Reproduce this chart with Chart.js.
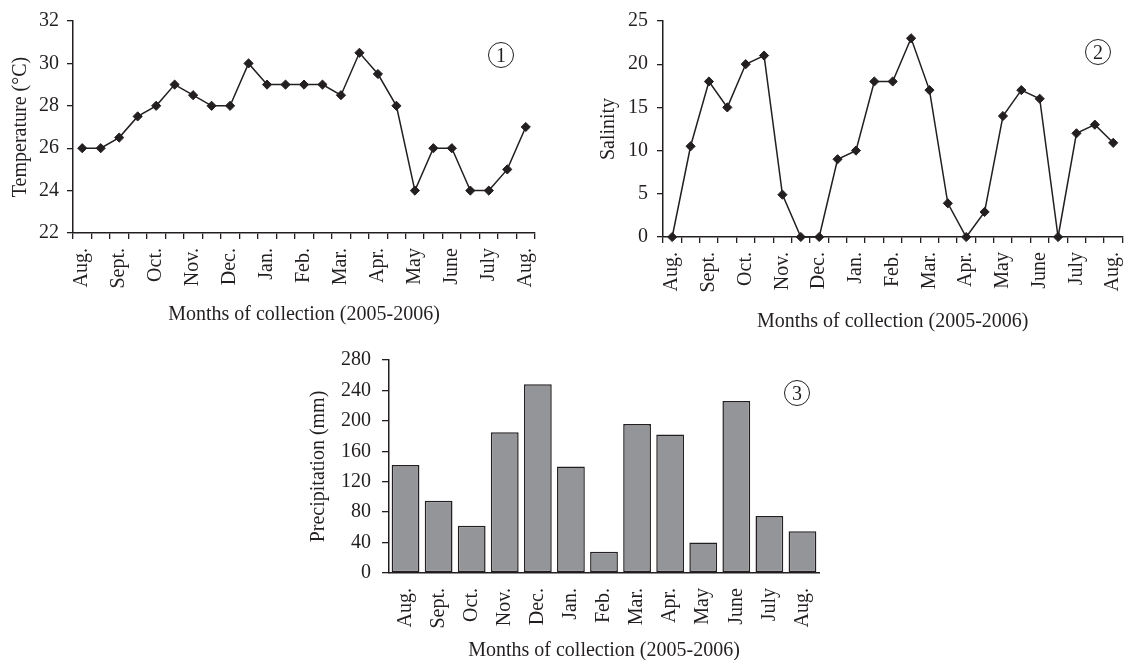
<!DOCTYPE html>
<html>
<head>
<meta charset="utf-8">
<title>Temperature, salinity and precipitation</title>
<script src="https://cdn.jsdelivr.net/npm/chart.js@4.4.1/dist/chart.umd.min.js"></script>
<style>
    html, body { margin: 0; padding: 0; background: #fff; overflow: hidden; width: 1128px; height: 660px; }
    canvas { position: absolute; }
    .tag {
        position: absolute; width: 26px; height: 26px; box-sizing: border-box;
        border: 1.3px solid #231f20; border-radius: 50%;
        font: 20px 'Liberation Serif', 'Times New Roman', serif; color: #231f20;
        text-align: center; line-height: 24px;
    }
</style>
</head>
<body>
<canvas id="tempChart" width="560" height="330" style="left:0;top:0"></canvas>
<canvas id="salinityChart" width="568" height="340" style="left:560px;top:0"></canvas>
<canvas id="rainChart" width="540" height="330" style="left:300px;top:340px"></canvas>
<div class="tag" style="left:488px;top:42px">1</div>
<div class="tag" style="left:1085px;top:39px">2</div>
<div class="tag" style="left:784px;top:380px">3</div>

<script>
// meses de colecta (ago 2005 - ago 2006)
const months = ['Aug.', 'Sept.', 'Oct.', 'Nov.', 'Dec.', 'Jan.', 'Feb.', 'Mar.', 'Apr.', 'May', 'June', 'July', 'Aug.'];

// dos muestras por mes -> etiqueta solo en la primera
const sampleLabels = [];
months.forEach((m, i) => {
    sampleLabels.push(m);
    if (i < months.length - 1) sampleLabels.push('');
});

const temperature = [26, 26, 26.5, 27.5, 28, 29, 28.5, 28, 28, 30, 29, 29, 29, 29, 28.5, 30.5, 29.5, 28, 24, 26, 26, 24, 24, 25, 27];
const salinity = [0, 10.5, 18, 15, 20, 21, 4.9, 0, 0, 9, 10, 18, 18, 23, 17, 3.9, 0, 2.9, 14, 17, 16, 0, 12, 13, 10.9];
const precipitation = [142, 95, 62, 185, 248, 140, 28, 196, 182, 40, 226, 75, 55];

const INK = '#231f20';
const xTitle = 'Months of collection (2005-2006)';

Chart.defaults.font.family = "'Liberation Serif', 'Times New Roman', serif";
Chart.defaults.font.size = 20;
Chart.defaults.color = INK;

// fija el tamaño de cada eje para ubicar el área del gráfico
function fixSize(key, value) {
    return function (scale) {
        scale[key] = value;
        scale.paddingLeft = 0;
        scale.paddingRight = 0;
        scale.paddingTop = 0;
        scale.paddingBottom = 0;
    };
}

function renderLineChart(id, values, yOpts, box) {
    const ctx = document.getElementById(id);
    return new Chart(ctx, {
        type: 'line',
        data: {
            labels: sampleLabels,
            datasets: [{
                data: values,
                borderColor: INK,
                borderWidth: 1.5,
                tension: 0,
                pointStyle: 'rectRot',
                pointRadius: 4.6,
                pointBackgroundColor: INK,
                pointBorderColor: INK,
                pointBorderWidth: 1,
                clip: false
            }]
        },
        options: {
            responsive: false,
            animation: false,
            layout: { padding: box.padding },
            plugins: { legend: { display: false }, tooltip: { enabled: false } },
            scales: {
                x: {
                    type: 'category',
                    offset: true,
                    grid: { offset: true, drawOnChartArea: false, drawTicks: true, tickLength: 6, color: INK, lineWidth: 1.3 },
                    border: { display: true, color: INK, width: 1.5 },
                    ticks: { autoSkip: false, minRotation: 90, maxRotation: 90, padding: 9 },
                    title: { display: true, text: xTitle, padding: { top: 0, bottom: box.xTitlePad } },
                    afterFit: fixSize('height', box.xHeight)
                },
                y: {
                    min: yOpts.min,
                    max: yOpts.max,
                    grid: { drawOnChartArea: false, tickLength: 6, color: INK, lineWidth: 1.3 },
                    border: { display: true, color: INK, width: 1.5 },
                    ticks: { stepSize: yOpts.step, padding: box.yTickPad },
                    title: { display: true, text: yOpts.title, padding: { top: box.yTitlePad, bottom: 0 } },
                    afterFit: fixSize('width', box.yWidth)
                }
            }
        }
    });
}

renderLineChart('tempChart', temperature,
    { min: 22, max: 32, step: 2, title: 'Temperature (°C)' },
    { padding: { left: 0, top: 21, right: 25, bottom: 0 }, xHeight: 97, yWidth: 73, xTitlePad: 3, yTitlePad: 9, yTickPad: 8 });

renderLineChart('salinityChart', salinity,
    { min: 0, max: 25, step: 5, title: 'Salinity' },
    { padding: { left: 0, top: 21, right: 3, bottom: 0 }, xHeight: 103, yWidth: 103, xTitlePad: 6, yTitlePad: 37, yTickPad: 9 });

// precipitación mensual
new Chart(document.getElementById('rainChart'), {
    type: 'bar',
    data: {
        labels: months,
        datasets: [{
            data: precipitation,
            backgroundColor: '#939598',
            borderColor: INK,
            borderWidth: 1.5,
            borderSkipped: false,
            barPercentage: 0.84,
            categoryPercentage: 1
        }]
    },
    options: {
        responsive: false,
        animation: false,
        layout: { padding: { left: 0, top: 20, right: 21, bottom: 0 } },
        plugins: { legend: { display: false }, tooltip: { enabled: false } },
        scales: {
            x: {
                grid: { display: true, drawOnChartArea: false, drawTicks: false },
                border: { display: true, color: INK, width: 1.5 },
                ticks: { autoSkip: false, minRotation: 90, maxRotation: 90, padding: 15 },
                title: { display: true, text: xTitle, padding: { top: 0, bottom: 7 } },
                afterFit: fixSize('height', 97)
            },
            y: {
                min: 0,
                max: 280,
                grid: { drawOnChartArea: false, tickLength: 7, color: INK, lineWidth: 1.3 },
                border: { display: true, color: INK, width: 1.5 },
                ticks: { stepSize: 40, padding: 11 },
                title: { display: true, text: 'Precipitation (mm)', padding: { top: 7, bottom: 0 } },
                afterFit: fixSize('width', 89)
            }
        }
    }
});
</script>
</body>
</html>
